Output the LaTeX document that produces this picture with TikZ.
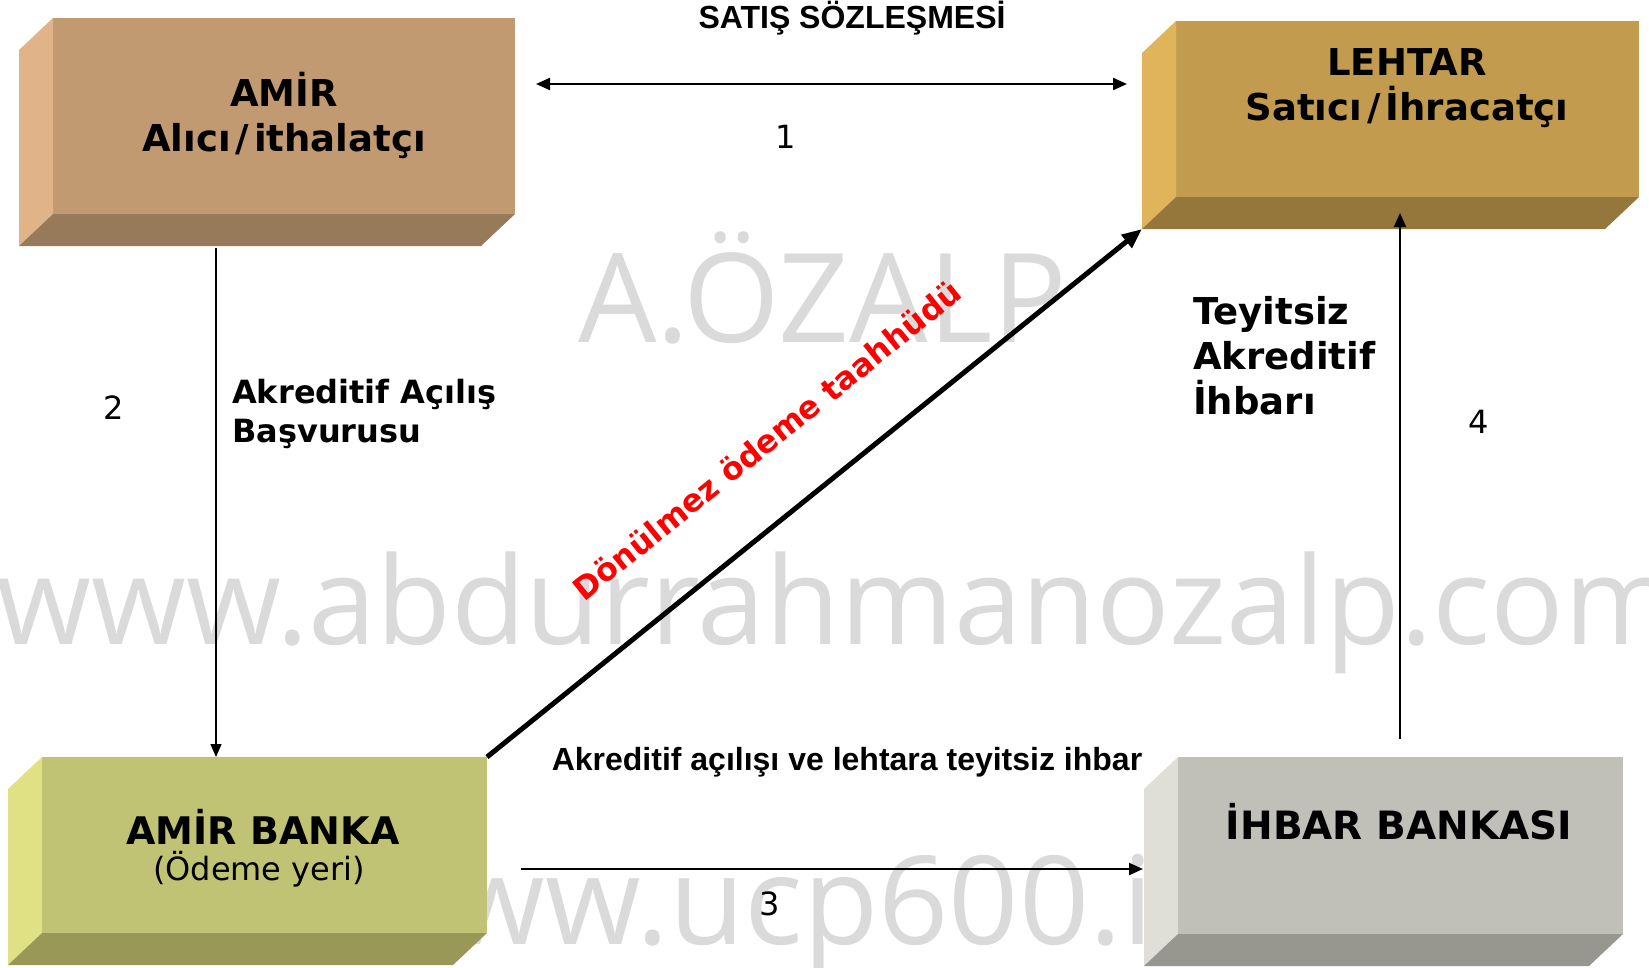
\documentclass[tikz,border=0pt]{standalone}
\usepackage{fontspec}
\setmainfont{DejaVu Sans}
\newfontfamily\arialfont{Liberation Sans}
\newfontfamily\wmfont{Open Sans}
\usetikzlibrary{arrows.meta,calc}
\definecolor{amirF}{HTML}{C29A72}
\definecolor{amirL}{HTML}{E0B488}
\definecolor{amirB}{HTML}{977A5A}
\definecolor{lehF}{HTML}{C29B4E}
\definecolor{lehL}{HTML}{E0B45A}
\definecolor{lehB}{HTML}{95763B}
\definecolor{bnkF}{HTML}{C0C274}
\definecolor{bnkL}{HTML}{E0E184}
\definecolor{bnkB}{HTML}{999857}
\definecolor{ihbF}{HTML}{C0C0B8}
\definecolor{ihbL}{HTML}{DFDFD8}
\definecolor{ihbB}{HTML}{979790}
\definecolor{wmgray}{HTML}{DADADA}
\newcommand\bevelsides[3]{%
  \fill[#2] (#1.north west) -- ++(-34,32) -- ($(#1.south west)+(-34,32)$) -- (#1.south west) -- cycle;
  \fill[#3] (#1.south west) -- ++(-34,32) -- ($(#1.south east)+(-34,32)$) -- (#1.south east) -- cycle;}
\newcommand\slsh{\kern5pt/\kern5pt}
\begin{document}
\begin{tikzpicture}[x=1pt,y=-1pt,
  face/.style={inner sep=0pt, outer sep=0pt, draw=none},
  bigtxt/.style={font=\fontsize{37}{45}\selectfont\bfseries, align=center, inner sep=0pt},
  midtxt/.style={font=\fontsize{32}{39}\selectfont\bfseries, align=left, inner sep=0pt},
  numtxt/.style={font=\fontsize{32}{38}\selectfont, inner sep=0pt},
  regtxt/.style={font=\fontsize{32}{38}\selectfont, inner sep=0pt},
  arialtxt/.style={font=\arialfont\fontsize{32}{38}\selectfont\bfseries, inner sep=0pt},
  wm/.style={font=\wmfont\fontsize{122}{130}\selectfont, text=wmgray, inner sep=0pt},
  conn/.style={-{Triangle[length=14pt,width=12pt]}, line width=2.2pt},
]
\useasboundingbox[fill=white] (0,0) rectangle (1649,967);
% watermarks
\node[wm, anchor=base west] (wm1) at (-4,644) {www.abdurrahmanozalp.com};
\node[wm, anchor=base west, font=\wmfont\fontsize{124}{130}\selectfont] (wm2) at (578,342) {A.ÖZALP};
\node[wm, anchor=base west, font=\wmfont\fontsize{123}{130}\selectfont] (wm3) at (354,944) {www.ucp600.info};
% boxes
\node[face, fill=amirF, minimum width=462pt, minimum height=196pt] (amir) at (284,116) {};
\bevelsides{amir}{amirL}{amirB}
\node[face, fill=lehF, minimum width=463pt, minimum height=176pt] (lehtar) at (1407.5,109) {};
\bevelsides{lehtar}{lehL}{lehB}
\node[face, fill=bnkF, minimum width=445pt, minimum height=176pt] (banka) at (264.5,845) {};
\bevelsides{banka}{bnkL}{bnkB}
\node[face, fill=ihbF, minimum width=445pt, minimum height=177pt] (ihbar) at (1400.5,845.5) {};
\bevelsides{ihbar}{ihbL}{ihbB}
% box texts
\node[bigtxt] (t1) at (284,115.5) {AMİR\\Alıcı\slsh ithalatçı};
\node[bigtxt] (t2) at (1407,88) {LEHTAR\\Satıcı\slsh İhracatçı};
\node[bigtxt, font=\fontsize{38}{45}\selectfont\bfseries] (t3) at (263,827) {AMİR BANKA};
\node[regtxt] (t3b) at (259,869) {(Ödeme yeri)};
\node[bigtxt, font=\fontsize{39}{45}\selectfont\bfseries] (t4) at (1399,822) {İHBAR BANKASI};
% labels
\node[arialtxt] (l1) at (852,18) {SATIŞ SÖZLEŞMESİ};
\node[numtxt] (n1) at (786,137) {1};
\node[numtxt] (n2) at (114,408) {2};
\node[midtxt, anchor=west] (l2) at (232,414) {Akreditif Açılış\\Başvurusu};
\node[bigtxt, align=left, anchor=west] (l4) at (1193,356) {Teyitsiz\\Akreditif\\İhbarı};
\node[numtxt] (n4) at (1479,422) {4};
\node[arialtxt] (l3) at (847,762) {Akreditif açılışı ve lehtara teyitsiz ihbar};
\node[numtxt] (n3) at (770,904) {3};
\node[font=\fontsize{31.5}{37}\selectfont\bfseries, text=red, rotate=38.8, inner sep=0pt] (red) at (767,440) {Dönülmez ödeme taahhüdü};
% connectors
\coordinate (a1l) at (536,84);
\coordinate (a1r) at (1127,84);
\draw[{Triangle[length=14pt,width=12pt]}-{Triangle[length=14pt,width=12pt]}, line width=2.2pt] (a1l) -- (a1r);
\coordinate (a2s) at (216,248);
\draw[-{Triangle[length=13pt,width=11pt]}, line width=1.5pt] (a2s) -- (banka.north -| a2s);
\coordinate (lcorner) at ($(lehtar.south west)+(-34,32)$);
\draw[-{Triangle[length=20pt,width=16pt]}, line width=5pt] (banka.north east) -- (lcorner);
\coordinate (a3s) at (521,869);
\coordinate (a3e) at (1143,869);
\draw[conn] (a3s) -- (a3e);
\coordinate (a4s) at (1400,739);
\coordinate (a4e) at (1400,213);
\draw[conn, line width=2pt] (a4s) -- (a4e);
\end{tikzpicture}
\end{document}
